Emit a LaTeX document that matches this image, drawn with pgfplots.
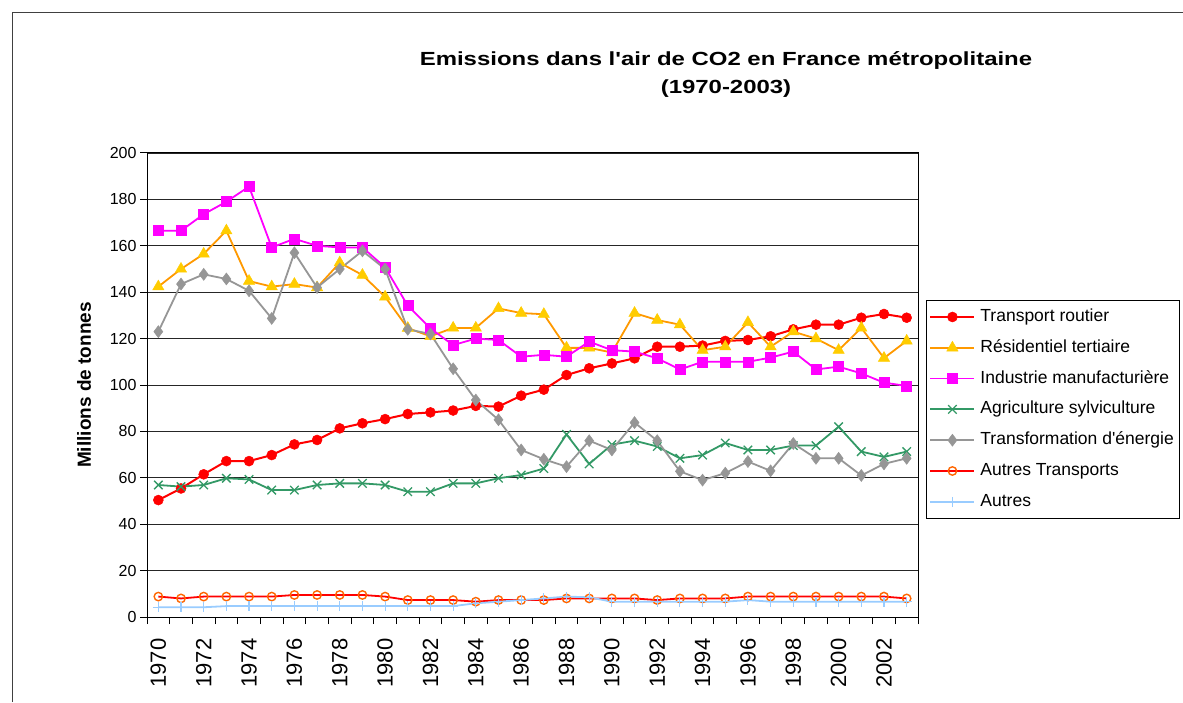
\documentclass[border=0pt]{standalone}
\usepackage{pgfplots}
\usepackage{pgfplotstable}
\pgfplotsset{compat=1.18}
\usepackage{fontspec}
\setmainfont{Liberation Sans}[Ligatures=TeXOff]

\definecolor{cRed}{HTML}{FF0000}
\definecolor{cOrange}{HTML}{FF9900}
\definecolor{cGold}{HTML}{FFCC00}
\definecolor{cMag}{HTML}{FF00FF}
\definecolor{cGreen}{HTML}{339966}
\definecolor{cGray}{HTML}{969696}
\definecolor{cOrg2}{HTML}{FF6600}
\definecolor{cBlue}{HTML}{99CCFF}

\pgfplotstableread{
year tr rt im ag te at au
1970 50.4 142.4 166.5 56.9 123.0 8.8 4.2
1971 55.4 150.0 166.5 56.2 143.5 8.0 4.2
1972 61.5 156.5 173.6 56.9 147.7 8.8 4.2
1973 67.2 166.5 179.0 59.8 145.7 8.8 4.7
1974 67.2 144.8 185.5 59.3 140.6 8.8 4.7
1975 69.8 142.4 159.3 54.7 128.7 8.8 4.7
1976 74.4 143.5 163.0 54.7 157.0 9.5 4.7
1977 76.3 142.0 160.0 56.9 142.0 9.5 4.7
1978 81.3 152.7 159.3 57.6 150.0 9.5 4.7
1979 83.5 147.4 159.3 57.6 157.8 9.5 4.7
1980 85.3 138.0 150.7 56.9 150.0 8.8 4.7
1981 87.5 124.5 134.2 54.0 124.0 7.3 4.7
1982 88.2 121.0 124.4 54.0 122.0 7.3 4.7
1983 89.0 124.6 117.2 57.6 107.0 7.3 4.7
1984 91.0 124.6 120.0 57.6 93.5 6.6 5.9
1985 90.7 133.0 119.4 59.8 85.0 7.3 6.6
1986 95.4 131.0 112.2 61.2 72.0 7.3 7.3
1987 98.0 130.5 113.0 64.0 68.0 7.3 8.0
1988 104.3 116.0 112.2 78.7 64.8 8.0 8.8
1989 107.2 116.0 118.7 66.0 76.0 8.0 8.5
1990 109.3 114.0 115.0 74.3 72.0 8.0 6.6
1991 111.5 131.0 114.4 76.0 83.8 8.0 6.6
1992 116.5 128.0 111.5 73.5 76.0 7.3 6.6
1993 116.5 126.0 106.7 68.4 62.8 8.0 6.6
1994 117.0 115.0 110.0 69.8 59.0 8.0 6.6
1995 119.0 116.5 110.0 75.0 62.0 8.0 6.6
1996 119.4 127.0 110.0 72.0 67.0 8.8 7.3
1997 121.0 116.5 111.8 72.0 63.0 8.8 6.6
1998 124.0 123.0 114.4 73.9 74.8 8.8 6.6
1999 126.0 120.0 106.7 73.9 68.4 8.8 6.6
2000 126.0 115.0 107.9 82.0 68.4 8.8 6.6
2001 129.0 124.6 105.0 71.3 61.0 8.8 6.6
2002 130.6 111.6 101.0 69.0 66.0 8.8 6.6
2003 129.0 119.0 99.6 71.3 68.4 8.0 6.6
}\data

\begin{document}
\begin{tikzpicture}
\useasboundingbox (0pt,0pt) rectangle (1183pt,702pt);
\draw[line width=1pt, black!75] (12pt,0pt) -- (12pt,689pt) -- (1183pt,689pt);
\node[anchor=base, xscale=1.26, font=\bfseries\fontsize{19}{19}\selectfont] at (726pt,636pt) {Emissions dans l'air de CO2 en France métropolitaine};
\node[anchor=base, xscale=1.26, font=\bfseries\fontsize{19}{19}\selectfont] at (726pt,608pt) {(1970-2003)};
\begin{axis}[
  at={(147pt,85pt)}, anchor=south west,
  scale only axis, width=771pt, height=464pt,
  xmin=1969.5, xmax=2003.5, ymin=0, ymax=200,
  ytick={0,20,...,200},
  xtick={1969.5,1970.5,...,2003.5}, xticklabels={},
  extra x ticks={1970,1972,...,2002},
  extra x tick style={major tick length=0pt,
     xticklabel style={yshift=-18pt, rotate=90, anchor=east, font=\fontsize{22}{22}\selectfont}},
  /pgf/number format/assume math mode=true,
  /pgf/number format/1000 sep={},
  ymajorgrids, grid style={black!85, line width=0.8pt},
  axis line style={black, line width=1pt},
  tick align=outside, major tick length=7pt, tick style={black, line width=1pt},
  xtick pos=bottom, ytick pos=left,
  yticklabel style={font=\fontsize{16}{16}\selectfont},
  ylabel={Millions de tonnes},
  ylabel style={at={(axis description cs:-0.0817,0.5)}, anchor=center, font=\bfseries\fontsize{19}{19}\selectfont},
  legend style={at={(1.0104,0.683)}, anchor=north west, draw=black, line width=0.8pt,
     font=\fontsize{17.5}{17.5}\selectfont, inner xsep=3pt, inner ysep=8pt,
     row sep=13.8pt, column sep=2pt,
     nodes={inner xsep=3pt, inner ysep=0pt, text height=13pt, text depth=4pt}},
  legend cell align=left,
  legend image code/.code={\draw[mark repeat=2,mark phase=2] plot coordinates {(0pt,0pt) (22pt,0pt) (44pt,0pt)};},
]
\addplot[cRed, line width=2pt, mark=*, mark size=5pt, mark options={solid, fill=cRed, draw=cRed, line width=0.5pt}] table[x=year,y=tr] {\data};
\addlegendentry{Transport routier}
\addplot[cOrange, line width=1.8pt, mark=triangle*, mark size=6.5pt, mark options={solid, fill=cGold, draw=cGold, line width=0.5pt}] table[x=year,y=rt] {\data};
\addlegendentry{Résidentiel tertiaire}
\addplot[cMag, line width=1.8pt, mark=square*, mark size=5pt, mark options={solid, fill=cMag, draw=cMag, line width=0.5pt}] table[x=year,y=im] {\data};
\addlegendentry{Industrie manufacturière}
\addplot[cGreen, line width=1.8pt, mark=x, mark size=6pt, mark options={solid, draw=cGreen, line width=1.3pt}] table[x=year,y=ag] {\data};
\addlegendentry{Agriculture sylviculture}
\addplot[cGray, line width=1.8pt, mark=diamond*, mark size=6pt, mark options={solid, fill=cGray, draw=cGray, line width=0.5pt}] table[x=year,y=te] {\data};
\addlegendentry{Transformation d'énergie}
\addplot[cRed, line width=1.8pt, mark=o, mark size=4.2pt, mark options={solid, fill=white, draw=cOrg2, line width=1.4pt}] table[x=year,y=at] {\data};
\addlegendentry{Autres Transports}
\addplot[cBlue, line width=1.8pt, mark=+, mark size=5pt, mark options={solid, draw=cBlue, line width=1.1pt}] table[x=year,y=au] {\data};
\addlegendentry{Autres}
\end{axis}
\end{tikzpicture}
\end{document}
